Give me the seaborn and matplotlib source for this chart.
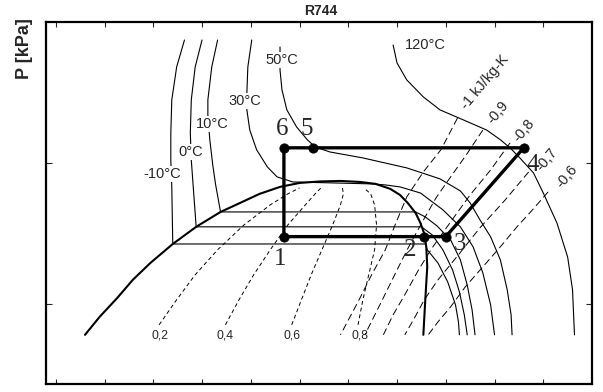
import matplotlib
matplotlib.use("Agg")
import matplotlib.pyplot as plt
from matplotlib.ticker import NullLocator
import seaborn as sns

sns.set_theme(style="white")
plt.rcParams['font.family'] = ['Liberation Sans', 'DejaVu Sans']

# saturation dome, h [kJ/kg], P [kPa]
dome_h = [80, 95, 113, 129, 147, 170, 194, 219, 239, 259, 280, 300, 321, 342, 362,
          378, 393, 403, 411, 419, 424, 428, 430, 431, 429, 427]
dome_p = [603, 809, 1100, 1480, 1950, 2660, 3520, 4490, 5200, 6030, 6760, 7210, 7390,
          7450, 7330, 7100, 6550, 5930, 5200, 4420, 3750, 3140, 2540, 1830, 1070, 603]

# isotherms
t_m10_h = [182, 174, 169, 168, 168, 169, 170, 429, 431, 442, 452, 460, 463, 464]
t_m10_p = [74500, 48000, 28000, 16300, 10500, 6760, 2660, 2660, 2420, 1950, 1430, 984, 745, 603]
t_0_h = [200, 193, 189, 188, 189, 191, 194, 425, 436, 447, 457, 464, 469, 472]
t_0_p = [74500, 48000, 28000, 16300, 10500, 6760, 3520, 3520, 3090, 2420, 1740, 1216, 836, 603]
t_10_h = [216, 210, 206, 206, 208, 211, 214, 219, 419, 429, 441, 455, 465, 472, 477, 480]
t_10_p = [74500, 48000, 28000, 21900, 14600, 9680, 6980, 4490, 4490, 4140, 3575, 2840, 2050,
          1360, 906, 603]
t_30_h = [251, 247, 246, 246, 249, 256, 267, 277, 293, 374, 388, 403, 424, 447, 465, 478,
          488, 496, 500]
t_30_p = [74500, 48000, 31300, 23800, 17100, 12400, 9370, 7960, 7330, 7100, 6980, 6760, 6120,
          4650, 3520, 2540, 1660, 984, 603]
t_50_h = [280, 280, 282, 287, 297, 308, 316, 331, 365, 410, 444, 465, 475, 485, 496, 506,
          513, 517, 518]
t_50_p = [66500, 45700, 33000, 23800, 18000, 14600, 13000, 11970, 10850, 9220, 7710, 6330,
          5200, 3950, 2990, 2050, 1260, 836, 603]
t_120_h = [396, 400, 410, 427, 444, 468, 492, 506, 516, 526, 540, 550, 564, 575, 580, 582]
t_120_p = [68700, 51200, 38800, 29400, 23800, 20200, 17100, 14600, 12780, 10850, 8490, 6120,
           3750, 2150, 1260, 603]

iso_labels = ["-10°C", "0°C", "10°C", "30°C", "50°C", "120°C"]
iso_lab_h = [159, 188, 211, 244, 282, 429]
iso_lab_p = [8360, 11970, 18900, 27500, 53700, 68700]

# vapour quality lines
q_p = [710, 1070, 1608, 2420, 3630, 5040, 6030, 6650]
q02_h = [156, 174, 193, 216, 243, 270, 288, 300]
q04_h = [224, 238, 253, 270, 288, 306, 316, 322]
q06_h = [292, 302, 312, 323, 334, 342, 345, 344]
q08_h = [360, 365, 371, 377, 379, 377, 373, 366]
q_labels = ["0,2", "0,4", "0,6", "0,8"]
q_lab_h = [157, 224, 292, 362]
q_lab_p = [600, 600, 600, 600]

# isentropes
s_10_h = [462, 445, 427, 410, 398, 388, 374, 360, 342]
s_10_p = [20800, 12400, 8630, 5740, 3630, 2420, 1610, 1033, 603]
s_09_h = [488, 471, 455, 440, 426, 413, 400, 385, 367]
s_09_p = [17100, 11400, 7960, 5650, 3820, 2620, 1740, 1070, 603]
s_08_h = [516, 496, 475, 455, 436, 422, 408, 396, 386]
s_08_p = [13900, 8920, 5930, 3820, 2494, 1740, 1160, 836, 603]
s_07_h = [535, 511, 485, 463, 442, 428, 418, 408]
s_07_p = [8630, 5470, 3460, 2230, 1480, 1070, 796, 603]
s_06_h = [555, 537, 523, 506, 488, 470, 455, 442, 432]
s_06_p = [6230, 4490, 3520, 2540, 1830, 1320, 953, 745, 603]
s_labels = ["-1 kJ/kg-K", "-0,9", "-0,8", "-0,7", "-0,6"]
s_lab_h = [490, 503, 530, 554, 574]
s_lab_p = [37500, 22650, 17100, 10500, 7960]

# cycle states 1..6
cyc_h = [284, 428, 450, 530, 314, 284]
cyc_p = [3000, 3000, 3000, 12800, 12800, 12800]
cyc_names = ["1", "2", "3", "4", "5", "6"]
cyc_lab_h = [280, 413, 465, 539, 307, 282]
cyc_lab_p = [2080, 2400, 2680, 9600, 17300, 17300]

fig = plt.figure(figsize=(6.03, 3.92), dpi=100)
ax = fig.add_axes([0.0763, 0.0204, 0.9055, 0.9235])
ax.set_yscale('log')

def curve(h, p, lw=0.8, ls='-'):
    sns.lineplot(x=h, y=p, sort=False, estimator=None, color='black',
                 linewidth=lw, linestyle=ls, ax=ax, legend=False)

for h, p in [(t_m10_h, t_m10_p), (t_0_h, t_0_p), (t_10_h, t_10_p),
             (t_30_h, t_30_p), (t_50_h, t_50_p), (t_120_h, t_120_p)]:
    curve(h, p, lw=0.8)

for qh in [q02_h, q04_h, q06_h, q08_h]:
    curve(qh, q_p, lw=0.7, ls=(0, (4.0, 3.0)))

for h, p in [(s_10_h, s_10_p), (s_09_h, s_09_p), (s_08_h, s_08_p),
             (s_07_h, s_07_p), (s_06_h, s_06_p)]:
    curve(h, p, lw=0.7, ls=(0, (7.5, 4.0)))

curve(dome_h, dome_p, lw=1.5)

curve(cyc_h + cyc_h[:1], cyc_p + cyc_p[:1], lw=2.4)
sns.scatterplot(x=cyc_h, y=cyc_p, color='black', s=45, edgecolor='black',
                zorder=5, ax=ax, legend=False)

for t, h, p in zip(iso_labels, iso_lab_h, iso_lab_p):
    ax.text(h, p, t, fontsize=10.5, ha='center', va='center', zorder=4,
            bbox=dict(facecolor='white', edgecolor='none', pad=0.6))
for t, h, p in zip(q_labels, q_lab_h, q_lab_p):
    ax.text(h, p, t, fontsize=8.8, ha='center', va='center')
for t, h, p in zip(s_labels, s_lab_h, s_lab_p):
    ax.text(h, p, t, fontsize=10.5, ha='center', va='center', rotation=50,
            rotation_mode='anchor')
for t, h, p in zip(cyc_names, cyc_lab_h, cyc_lab_p):
    ax.text(h, p, t, fontsize=18, ha='center', va='center',
            family=['Liberation Serif', 'DejaVu Serif'], zorder=6)

ax.set_xlim(40, 600)
ax.set_ylim(270, 100000)
ax.set_xticks(range(50, 600, 50))
ax.set_yticks([1000, 10000])
ax.yaxis.set_minor_locator(NullLocator())
ax.tick_params(axis='x', direction='in', top=True, bottom=True, length=3.5, width=0.8,
               labelbottom=False)
ax.tick_params(axis='y', direction='in', left=True, right=True, length=4.5, width=0.8,
               labelleft=False)
ax.set_xlabel('')
ax.set_ylabel('')
for s in ax.spines.values():
    s.set_linewidth(1.6)
    s.set_color('black')

fig.text(0.532, 0.972, "R744", fontsize=10, fontweight='bold', ha='center', va='center')
fig.text(0.040, 0.877, "P [kPa]", fontsize=13, fontweight='bold', ha='center',
         va='center', rotation=90)

fig.savefig("out.png", dpi=100)
